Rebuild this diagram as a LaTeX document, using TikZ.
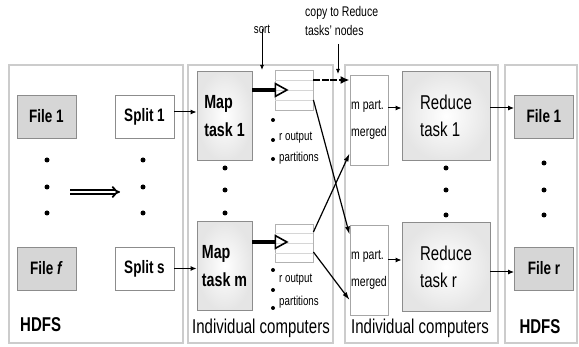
\documentclass[tikz,border=0pt]{standalone}
\usepackage{fontspec}
\setmainfont{Liberation Sans}[FakeStretch=0.75]
\usetikzlibrary{arrows.meta,calc}
\begin{document}
\begin{tikzpicture}[x=1pt,y=-1pt,
  panel/.style={draw=black!20, line width=1.2pt},
  boxbase/.style={draw=black!45, line width=0.9pt, inner sep=1pt},
  filebox/.style={boxbase, fill=black!16, minimum width=59pt, minimum height=43pt, font=\bfseries\fontsize{18}{20}\selectfont},
  splitbox/.style={boxbase, fill=white, minimum width=59pt, minimum height=43pt, font=\bfseries\fontsize{18}{20}\selectfont},
  mapbox/.style={boxbase, inner color=white, outer color=black!10, minimum width=55pt, minimum height=89pt, align=left, font=\bfseries\fontsize{19}{28}\selectfont},
  redbox/.style={boxbase, inner color=white, outer color=black!10, minimum width=88pt, minimum height=89pt, align=left, font=\fontsize{20}{27}\selectfont},
  mergebox/.style={boxbase, draw=black!35, fill=white, minimum width=38pt, minimum height=90pt, align=left, inner sep=0pt, font=\fontsize{14}{27}\selectfont},
  outbox/.style={draw=black!30, line width=0.8pt, minimum width=38pt, minimum height=40pt},
  small/.style={font=\fontsize{13}{15}\selectfont, inner sep=0pt},
  biglabel/.style={font=\fontsize{20}{22}\selectfont, inner sep=0pt},
  thin arrow/.style={line width=1pt, -{Latex[length=6pt,width=5pt]}},
  cross arrow/.style={line width=1.2pt, -{Latex[length=8pt,width=5pt]}},
  fat arrow/.style={line width=3.5pt, -{Triangle[open, length=14pt, width=15pt, line width=1.6pt]}},
  dotmark/.style={fill=black}
]
\useasboundingbox (0,0) rectangle (579,347);
\fill[white] (0,0) rectangle (579,347);

% panels
\draw[panel] (9,65) rectangle (183,343);
\draw[panel] (188,65) rectangle (333,343);
\draw[panel] (345,65) rectangle (498,343);
\draw[panel] (505,65) rectangle (577,343);

% left HDFS
\node[filebox] (fileL1) at (46.5,116.5) {File 1};
\node[filebox] (fileLf) at (46.5,268.5) {File \textit{f}};
\node[splitbox] (split1) at (144.5,116.5) {Split 1};
\node[splitbox] (splits) at (144.5,268.5) {Split s};

% map tasks
\node[mapbox] (map1) at (224.5,116) {Map\\task 1};
\node[mapbox] (mapm) at (224.5,266) {Map\\task m};

% output partitions
\node[outbox] (out1) at (294,90) {};
\node[outbox, minimum height=38pt] (outm) at (294,243) {};
\foreach \yy in {80,90,100} \draw[black!16, line width=0.7pt] (275,\yy) -- (313,\yy);
\foreach \yy in {233,243,253} \draw[black!16, line width=0.7pt] (275,\yy) -- (313,\yy);

% merged
\node[mergebox] (merged1) at (369,120) {m part.\\merged};
\node[mergebox] (mergedr) at (369,270) {m part.\\merged};

% reduce tasks
\node[redbox] (red1) at (446,116) {Reduce\\task 1};
\node[redbox] (redr) at (446,267) {Reduce\\task r};

% right HDFS
\node[filebox] (fileR1) at (544,116.5) {File 1};
\node[filebox] (fileRr) at (544,268.5) {File r};

% ellipsis dots
\foreach \xx/\ya/\yb/\yc in {47/160/187/213, 143/160/187/213, 225/168/190/213, 446/168/190/215, 544/163/190/215}
  {\fill[dotmark] (\xx,\ya) circle (2.5);
   \fill[dotmark] (\xx,\yb) circle (2.5);
   \fill[dotmark] (\xx,\yc) circle (2.5);}

% big double arrow
\coordinate (bigA) at (70,192);
\coordinate (bigB) at (120,192);
\draw[double, double distance=2pt, line width=1.8pt, -{Implies}] (bigA) -- (bigB);

% split -> map
\draw[thin arrow] (split1.east |- 0,112) -- (map1.west |- 0,112);
\draw[thin arrow] (splits.east) -- (mapm.west |- splits.east);

% map -> output (sort)
\coordinate (o1tip) at ($(out1.west)+(14,0)$);
\coordinate (omtip) at ($(outm.west)+(14,-1)$);
\draw[fat arrow] (map1.east |- o1tip) -- (o1tip);
\draw[fat arrow] (mapm.east |- omtip) -- (omtip);

% output partitions labels
\foreach \yy in {120,140,159} \fill[dotmark] (273,\yy) circle (2);
\foreach \yy in {270,290,308} \fill[dotmark] (273,\yy) circle (2);
\node[small, anchor=west] (rout1) at (279,138) {r output};
\node[small, anchor=west] (part1) at (279,158) {partitions};
\node[small, anchor=west] (routm) at (279,280) {r output};
\node[small, anchor=west] (partm) at (279,302) {partitions};

% sort label
\node[small] (sortlbl) at (262,29) {sort};
\coordinate (sorttip) at (262,70);
\draw[line width=0.8pt, -{Latex[length=5pt,width=4pt]}] (sortlbl.south) ++(0,-4) -- (sorttip);

% copy label
\node[small, font=\fontsize{14}{19}\selectfont, align=left, anchor=north west] (copylbl) at (305,6) {copy to Reduce\\tasks' nodes};
\coordinate (copytop) at (338,44);
\coordinate (copytip) at (338,74);
\draw[line width=0.8pt, -{Latex[length=5pt,width=4pt]}] (copytop) -- (copytip);

% shuffle arrows
\draw[line width=2.4pt, dash pattern=on 7pt off 1.5pt, -{Latex[length=9pt,width=8pt]}] ($(out1.east)+(0,-10)$) -- (merged1.west |- 0,80);
\draw[cross arrow] ($(out1.east)+(0,10)$) -- ($(mergedr.north west)+(0,10)$);
\draw[cross arrow] ($(outm.east)+(0,-11)$) -- ($(merged1.south west)+(0,-12)$);
\draw[cross arrow] ($(outm.east)+(0,9)$) -- ($(mergedr.west)+(0,30)$);

% merged -> reduce
\draw[thin arrow] (merged1.east |- 0,108) -- (red1.west |- 0,108);
\draw[thin arrow] (mergedr.east |- 0,260) -- (redr.west |- 0,260);

% reduce -> file
\draw[thin arrow] (red1.east |- 0,108) -- (fileR1.west |- 0,108);
\draw[thin arrow] (redr.east |- 0,272) -- (fileRr.west |- 0,272);

% panel labels
\node[biglabel, font=\bfseries\fontsize{20}{22}\selectfont, anchor=west] (hdfsL) at (20,325) {HDFS};
\node[biglabel] (indiv1) at (261,328) {Individual computers};
\node[biglabel] (indiv2) at (420,328) {Individual computers};
\node[biglabel, font=\bfseries\fontsize{20}{22}\selectfont] (hdfsR) at (540,327) {HDFS};
\end{tikzpicture}
\end{document}
